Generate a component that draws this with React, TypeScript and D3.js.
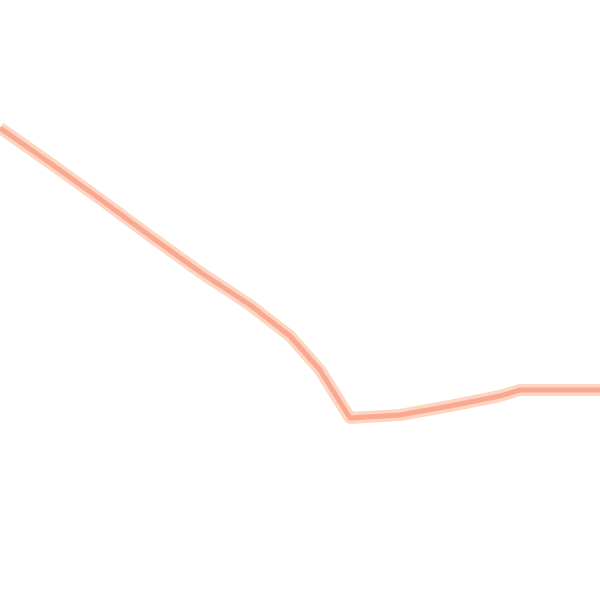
import { useMemo } from "react";
import * as d3 from "d3";

const W = 600;
const H = 600;

// sampled positions along the x axis and the line's value at each
const xValues = [0, 50, 100, 150, 200, 250, 290, 320, 350, 400, 450, 500, 520, 600];
const yValues = [128, 163, 199, 236, 272, 305, 336, 370, 418, 415, 406, 396, 390, 390];

const HALO = "#fdd6c2";
const CORE = "#f9a892";

export default function App() {
  const path = useMemo(() => {
    const x = d3.scaleLinear().domain([0, 600]).range([0, W]);
    const y = d3.scaleLinear().domain([0, 600]).range([0, H]);
    const line = d3
      .line<number>()
      .x((_d, i) => x(xValues[i]))
      .y((d) => y(d))
      .curve(d3.curveLinear);
    return line(yValues) ?? "";
  }, []);

  return (
    <div style={{ position: "fixed", left: 0, top: 0, width: W, height: H, background: "#fff" }}>
      <svg width={W} height={H} viewBox={`0 0 ${W} ${H}`} style={{ display: "block" }}>
        <path d={path} fill="none" stroke={HALO} strokeWidth={12} strokeLinejoin="round" />
        <path d={path} fill="none" stroke={CORE} strokeWidth={5} strokeLinejoin="round" />
      </svg>
    </div>
  );
}
